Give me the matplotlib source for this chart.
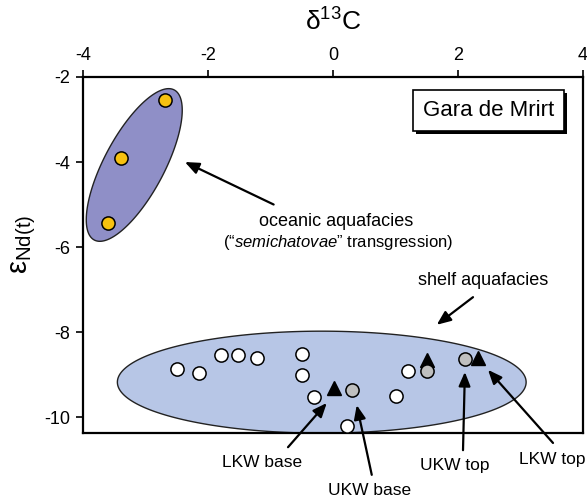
import numpy as np
import matplotlib
matplotlib.use('Agg')
import matplotlib.pyplot as plt
from matplotlib.patches import Polygon, Rectangle
from matplotlib.transforms import IdentityTransform

plt.rcParams['font.family'] = ['Liberation Sans', 'DejaVu Sans']
plt.rcParams['mathtext.fontset'] = 'custom'
plt.rcParams['mathtext.rm'] = 'Liberation Sans'
plt.rcParams['mathtext.it'] = 'Liberation Sans:italic'
plt.rcParams['axes.unicode_minus'] = False

# oceanic aquafacies (yellow)
oceanic_d13c = [-2.69, -3.39, -3.60]
oceanic_end = [-2.54, -3.91, -5.44]

# shelf aquafacies (white)
shelf_d13c = [-2.50, -2.14, -1.79, -1.52, -1.21, -0.50, -0.50, -0.30, 0.23, 1.20, 1.01]
shelf_end = [-8.88, -8.97, -8.55, -8.55, -8.60, -8.52, -9.01, -9.52, -10.21, -8.91, -9.51]

# UKW samples (grey) and LKW samples (black triangles)
ukw_d13c = [0.31, 1.51, 2.11]
ukw_end = [-9.36, -8.92, -8.64]
lkw_d13c = [0.01, 1.50, 2.32]
lkw_end = [-9.32, -8.66, -8.60]

# ellipses: centre, semi-axis vectors (data units)
oceanic_centre = (-3.18, -4.07)
oceanic_axes = [(0.64, 1.765), (0.424, -0.332)]
shelf_centre = (-0.18, -9.18)
shelf_axes = [(3.27, 0.0), (0.0, 1.2)]

# annotation texts: (label, text pos, arrow tail, arrow head)
bottom_labels = [
    ('LKW base', (-1.14, -11.08), (-0.72, -10.71), (-0.10, -9.67)),
    ('UKW base', (0.58, -11.74), (0.62, -11.36), (0.38, -9.72)),
    ('UKW top', (1.95, -11.13), (2.08, -10.78), (2.11, -8.94)),
    ('LKW top', (3.50, -11.01), (3.52, -10.61), (2.48, -8.89)),
]


def ellipse(ax, centre, axes_vec, color):
    t = np.linspace(0, 2 * np.pi, 300)
    u, v = np.array(axes_vec[0]), np.array(axes_vec[1])
    pts = np.array(centre) + np.outer(np.cos(t), u) + np.outer(np.sin(t), v)
    ax.add_patch(Polygon(pts, closed=True, facecolor=color, edgecolor='#222222', lw=1.0, zorder=1))


fig = plt.figure(figsize=(5.87, 4.98), dpi=100)
ax = fig.add_axes([0.1414, 0.1305, 0.8518, 0.7149])

ellipse(ax, oceanic_centre, oceanic_axes, '#8f8fc7')
ellipse(ax, shelf_centre, shelf_axes, '#b7c6e6')

ms = 9.5
ax.plot(oceanic_d13c, oceanic_end, 'o', ms=ms, mfc='#f7c110', mec='k', mew=1.1, ls='none', zorder=3)
ax.plot(shelf_d13c, shelf_end, 'o', ms=ms, mfc='white', mec='k', mew=1.1, ls='none', zorder=3)
ax.plot(lkw_d13c, lkw_end, '^', ms=10, mfc='black', mec='k', mew=1.0, ls='none', zorder=3)
ax.plot(ukw_d13c, ukw_end, 'o', ms=ms, mfc='#bfbfbf', mec='k', mew=1.1, ls='none', zorder=4)

ax.set_xlim(-4, 4)
ax.set_ylim(-10.376, -2)
ax.set_xticks([-4, -2, 0, 2, 4])
ax.set_yticks([-2, -4, -6, -8, -10])
ax.tick_params(axis='x', top=True, labeltop=True, bottom=False, labelbottom=False,
               direction='out', length=5, width=1.2, labelsize=13, pad=4)
ax.tick_params(axis='y', direction='out', length=5, width=1.2, labelsize=13, pad=4)
for sp in ax.spines.values():
    sp.set_linewidth(1.6)

ax.xaxis.set_label_position('top')
ax.set_xlabel('δ$^{13}$C', fontsize=19)
ax.xaxis.set_label_coords(0.5, 1.13)
ax.set_ylabel('ε$_{\\mathrm{Nd(t)}}$', fontsize=21)
ax.yaxis.set_label_coords(-0.09, 0.53)

# site name box, drop shadow added after a draw so the box size is known
site = ax.text(2.49, -2.8, 'Gara de Mrirt', fontsize=16, ha='center', va='center', zorder=6,
               bbox=dict(boxstyle='square,pad=0.45', fc='white', ec='black', lw=1.2))

arrow = dict(arrowstyle='-|>,head_length=0.6,head_width=0.25', color='k', lw=1.6,
             mutation_scale=14, shrinkA=0, shrinkB=0)

ax.text(0.05, -5.41, 'oceanic aquafacies', fontsize=13, ha='center', va='center')
ax.text(0.08, -5.90, '(“$\\it{semichatovae}$” transgression)', fontsize=12, ha='center', va='center')
ax.annotate('', xy=(-2.37, -4.0), xytext=(-0.95, -5.0), arrowprops=arrow)

ax.text(2.40, -6.78, 'shelf aquafacies', fontsize=13, ha='center', va='center')
ax.annotate('', xy=(1.66, -7.83), xytext=(2.24, -7.18), arrowprops=arrow)

for label, tpos, tail, head in bottom_labels:
    ax.text(tpos[0], tpos[1], label, fontsize=12.5, ha='center', va='center', clip_on=False)
    ax.annotate('', xy=head, xytext=tail, arrowprops=arrow, annotation_clip=False)

fig.canvas.draw()
bb = site.get_bbox_patch().get_window_extent()
ax.add_patch(Rectangle((bb.x0 + 2.5, bb.y0 - 2.5), bb.width, bb.height, transform=IdentityTransform(),
                       fc='black', ec='black', lw=0, zorder=5))

fig.savefig('out.png', dpi=100)
